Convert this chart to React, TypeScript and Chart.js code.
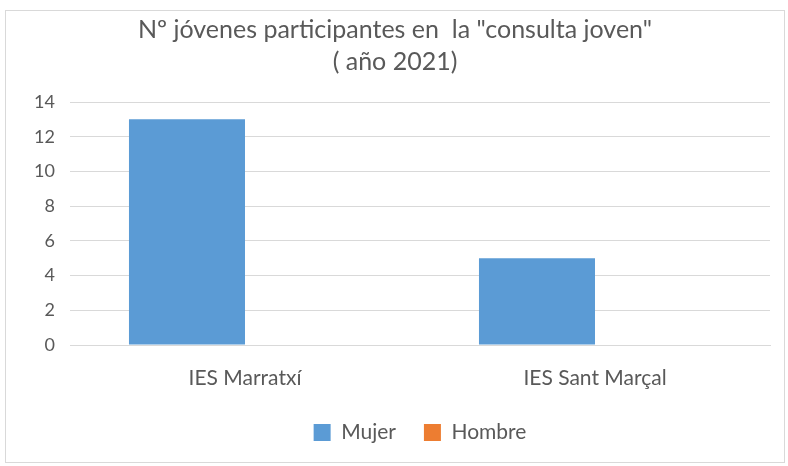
import React, { useEffect, useRef } from "react";
import { Chart, registerables } from "chart.js";

Chart.register(...registerables);

const titleLines = ['Nº jóvenes participantes en  la "consulta joven"', "( año 2021)"];
const categories = ["IES Marratxí", "IES Sant Marçal"];
const mujerValues = [13, 5];
const hombreValues = [0, 0];
const seriesNames = ["Mujer", "Hombre"];
const yMin = 0;
const yMax = 14;
const yStep = 2;

const FONT = "Lato, 'Open Sans', sans-serif";
const TEXT = "#595959";

export default function App() {
  const ref = useRef<HTMLCanvasElement | null>(null);

  useEffect(() => {
    if (!ref.current) return;
    const chart = new Chart(ref.current, {
      type: "bar",
      data: {
        labels: categories,
        datasets: [
          { label: seriesNames[0], data: mujerValues, backgroundColor: "#5b9bd5", borderWidth: 0 },
          { label: seriesNames[1], data: hombreValues, backgroundColor: "#ed7d31", borderWidth: 0 },
        ],
      },
      options: {
        responsive: false,
        animation: false,
        categoryPercentage: 0.663,
        barPercentage: 1,
        layout: { padding: { left: 20, right: 18, top: 14, bottom: 13 } },
        plugins: {
          title: {
            display: true,
            text: titleLines,
            color: TEXT,
            font: { family: FONT, size: 25, weight: "normal", lineHeight: 1.28 },
            padding: { top: 0, bottom: 24 },
          },
          legend: {
            position: "bottom",
            fullSize: false,
            labels: {
              color: TEXT,
              font: { family: FONT, size: 21 },
              boxWidth: 17,
              boxHeight: 17,
              padding: 28,
            },
          },
          tooltip: { enabled: false },
        },
        scales: {
          x: {
            grid: { display: false, drawTicks: false },
            border: { color: "#d9d9d9" },
            ticks: { color: TEXT, font: { family: FONT, size: 21 }, padding: 21 },
            afterFit: (s: any) => {
              s.height = 49;
            },
          },
          y: {
            min: yMin,
            max: yMax,
            grid: { color: "#d9d9d9", drawTicks: false },
            border: { display: false },
            ticks: { stepSize: yStep, color: TEXT, font: { family: FONT, size: 18 }, padding: 15 },
            afterFit: (s: any) => {
              s.width = 50;
            },
          },
        },
      },
    });
    return () => chart.destroy();
  }, []);

  return (
    <div style={{ position: "fixed", left: 0, top: 0, width: 788, height: 466, background: "#fff" }}>
      <div
        style={{
          position: "absolute",
          left: 5,
          top: 10,
          width: 780,
          height: 453,
          border: "1px solid #d9d9d9",
          boxSizing: "border-box",
        }}
      />
      <canvas ref={ref} width={788} height={466} style={{ position: "absolute", left: 0, top: 0 }} />
    </div>
  );
}
